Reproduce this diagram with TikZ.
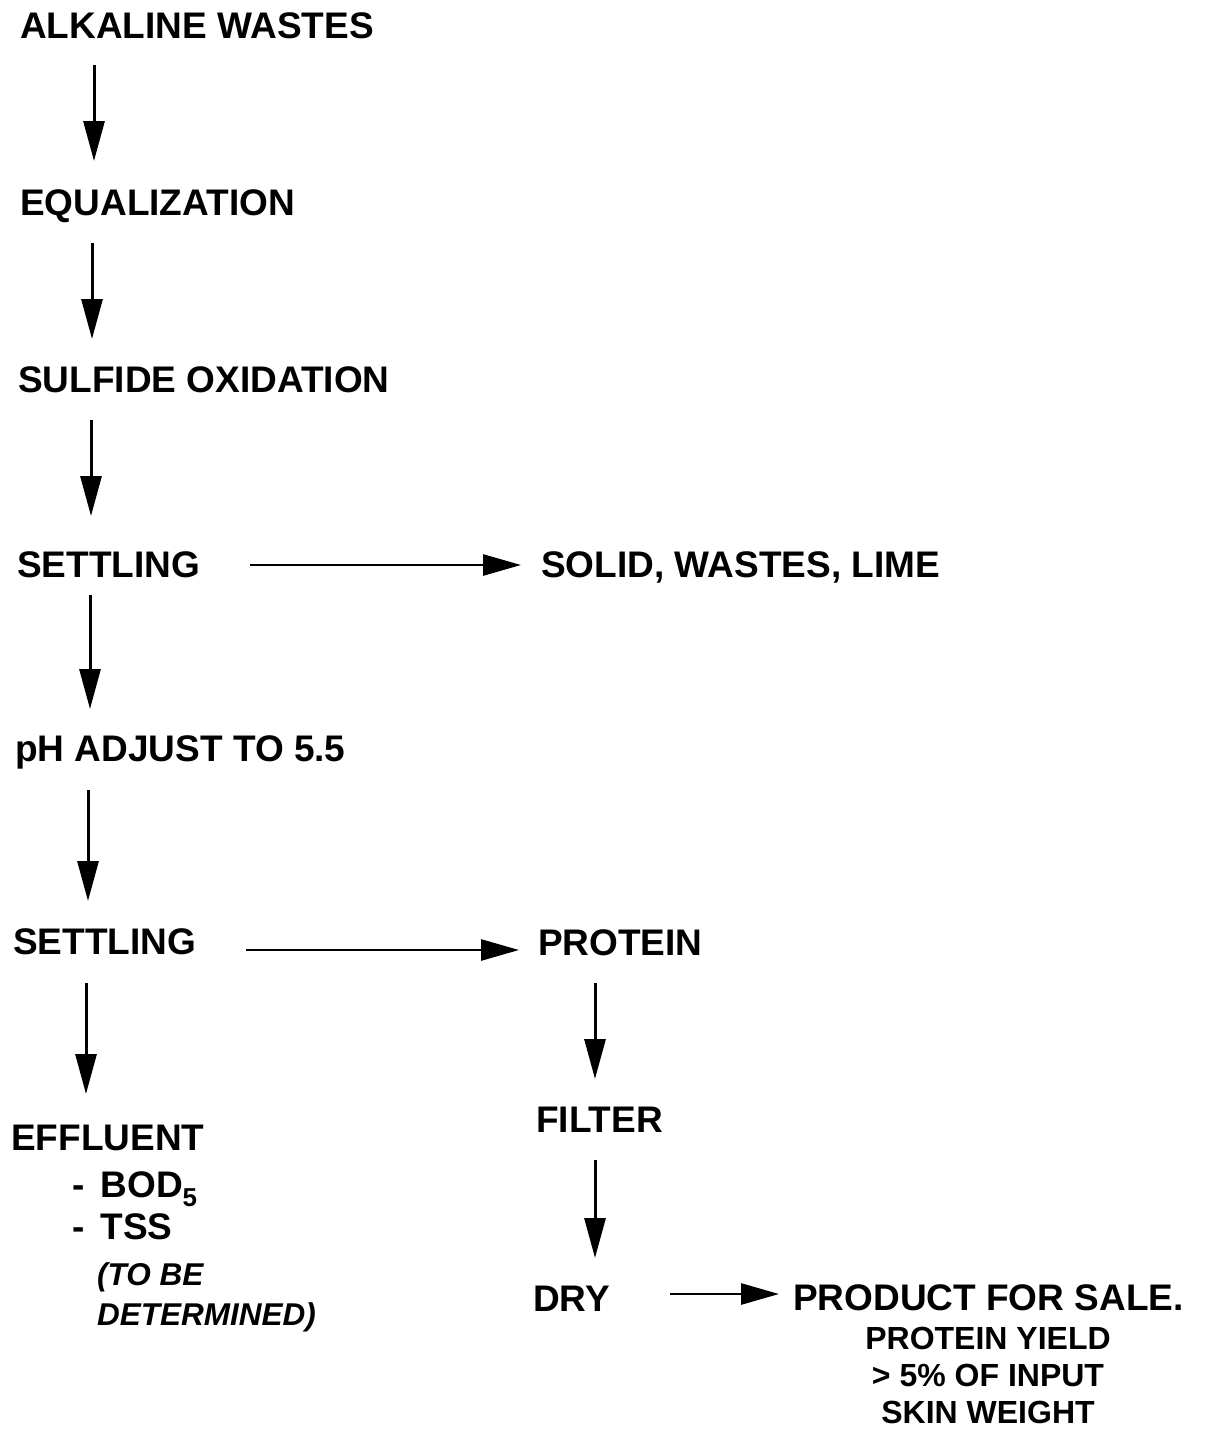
\documentclass[tikz,border=0pt]{standalone}
\usepackage{fontspec}
\setmainfont{Liberation Sans}
\usetikzlibrary{arrows.meta}
\begin{document}
\begin{tikzpicture}[x=1pt,y=-1pt,
  lbl/.style={anchor=base west,inner sep=0pt,font=\bfseries\fontsize{37}{42}\selectfont},
  sml/.style={anchor=base,inner sep=0pt,font=\bfseries\fontsize{32}{36}\selectfont},
  itl/.style={anchor=base west,inner sep=0pt,font=\bfseries\itshape\fontsize{31.5}{36}\selectfont},
  arr/.style={line width=3pt,-{Triangle[length=40pt,width=21pt]}},
  harr/.style={line width=2.8pt,-{Triangle[length=38pt,width=21pt]}}]
\useasboundingbox (0,0) rectangle (1206,1429);
\node[lbl] (alk) at (20,38) {ALKALINE WASTES};
\node[lbl] (equ) at (20,215) {EQUALIZATION};
\node[lbl] (sul) at (18,392) {SULFIDE OXIDATION};
\node[lbl] (set1) at (17,577) {SETTLING};
\node[lbl] (sol) at (541,577) {SOLID, WASTES, LIME};
\node[lbl] (ph) at (15,761) {pH ADJUST TO 5.5};
\node[lbl] (set2) at (13,954) {SETTLING};
\node[lbl] (pro) at (538,955) {PROTEIN};
\node[lbl] (eff) at (11,1150) {EFFLUENT};
\node[lbl] (bod) at (72,1197) {-\hspace{16pt}BOD\textsubscript{5}};
\node[lbl] (tss) at (72,1239) {-\hspace{16pt}TSS};
\node[itl] (tbd1) at (97,1285) {(TO BE};
\node[itl] (tbd2) at (97,1325) {DETERMINED)};
\node[lbl] (fil) at (536,1132) {FILTER};
\node[lbl] (dry) at (533,1311) {DRY};
\node[lbl] (prod) at (793,1310) {PRODUCT FOR SALE.};
\node[sml] (py) at (988,1349) {PROTEIN YIELD};
\node[sml] (pct) at (988,1386) {> 5\% OF INPUT};
\node[sml] (skin) at (988,1423) {SKIN WEIGHT};
% arrow endpoints
\coordinate (a1s) at (94,65);  \coordinate (a1e) at (94,161);
\coordinate (a2s) at (92,243); \coordinate (a2e) at (92,339);
\coordinate (a3s) at (91,420); \coordinate (a3e) at (91,516);
\coordinate (a4s) at (90,595); \coordinate (a4e) at (90,709);
\coordinate (a5s) at (88,790); \coordinate (a5e) at (88,901);
\coordinate (a6s) at (86,983); \coordinate (a6e) at (86,1094);
\coordinate (a7s) at (595,983); \coordinate (a7e) at (595,1079);
\coordinate (a8s) at (595,1160); \coordinate (a8e) at (595,1258);
\coordinate (h1s) at (250,565); \coordinate (h1e) at (521,565);
\coordinate (h2s) at (246,950); \coordinate (h2e) at (519,950);
\coordinate (h3s) at (670,1294); \coordinate (h3e) at (779,1294);
\draw[arr] (a1s) -- (a1e);
\draw[arr] (a2s) -- (a2e);
\draw[arr] (a3s) -- (a3e);
\draw[arr] (a4s) -- (a4e);
\draw[arr] (a5s) -- (a5e);
\draw[arr] (a6s) -- (a6e);
\draw[arr] (a7s) -- (a7e);
\draw[arr] (a8s) -- (a8e);
\draw[harr] (h1s) -- (h1e);
\draw[harr] (h2s) -- (h2e);
\draw[harr] (h3s) -- (h3e);
\end{tikzpicture}
\end{document}
